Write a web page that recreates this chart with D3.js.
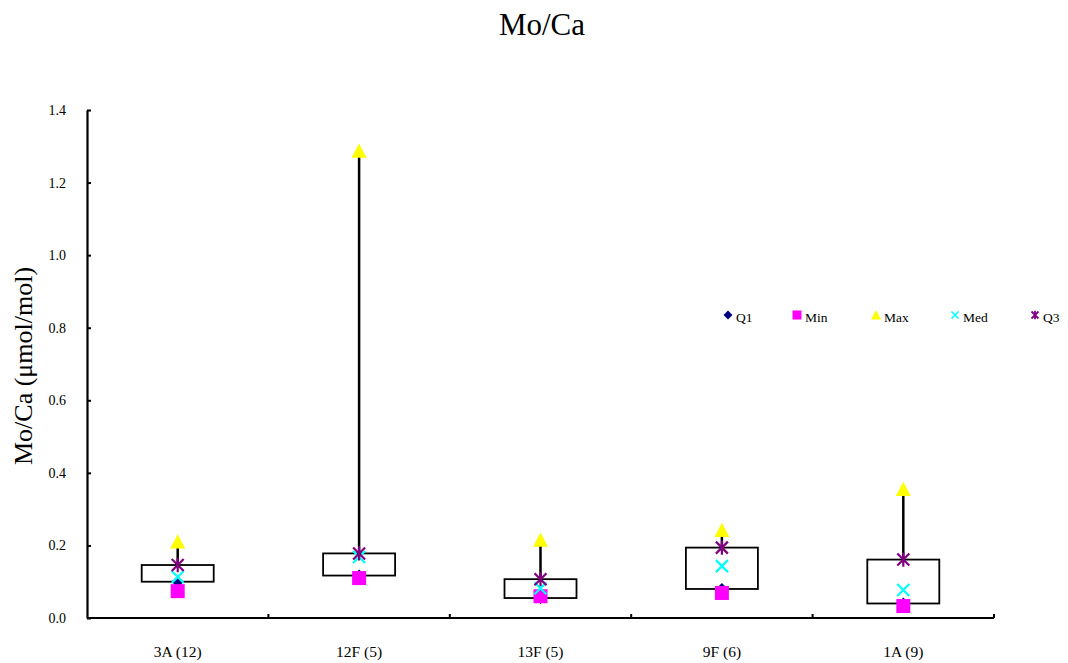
<!DOCTYPE html>
<html>
<head>
<meta charset="utf-8">
<script src="https://cdn.jsdelivr.net/npm/d3@7"></script>
<style>
body{margin:0;background:#fff;}
svg{display:block;font-family:"Liberation Serif","Times New Roman",serif;}
</style>
</head>
<body>
<svg id="chart" width="1068" height="663"></svg>
<script>
const categories = ["3A (12)", "12F (5)", "13F (5)", "9F (6)", "1A (9)"];
const q1Values  = [0.100, 0.117, 0.055, 0.080, 0.040];
const minValues = [0.074, 0.110, 0.060, 0.069, 0.033];
const maxValues = [0.210, 1.287, 0.215, 0.242, 0.355];
const medValues = [0.113, 0.168, 0.082, 0.143, 0.077];
const q3Values  = [0.146, 0.178, 0.107, 0.194, 0.161];
const yTicks = [0, 0.2, 0.4, 0.6, 0.8, 1.0, 1.2, 1.4];
const legendItems = ["Q1", "Min", "Max", "Med", "Q3"];

(function () {
const svg = d3.select("#chart");
const pLeft = 87, pRight = 994, pTop = 110, pBottom = 618;
const serif = "Liberation Serif";

const x = d3.scaleBand().domain(categories).range([pLeft, pRight]).paddingInner(0).paddingOuter(0);
const y = d3.scaleLinear().domain([0, 1.4]).range([pBottom, pTop]);

// title
svg.append("text").attr("x", 542).attr("y", 35).attr("text-anchor", "middle")
  .attr("font-family", serif).attr("font-size", 31).text("Mo/Ca");

// y label
svg.append("text").attr("transform", "translate(32," + 366 + ") rotate(-90)")
  .attr("text-anchor", "middle").attr("font-family", serif).attr("font-size", 26).text("Mo/Ca (μmol/mol)");

// y axis
const yAxis = d3.axisLeft(y).tickValues(yTicks).tickFormat(d3.format(".1f")).tickSizeInner(-4).tickSizeOuter(0).tickPadding(21);
const gy = svg.append("g").attr("transform", "translate(" + pLeft + ",0)").call(yAxis);
gy.attr("font-family", serif);
gy.select(".domain").attr("stroke", "#000").attr("stroke-width", 2.2);
gy.selectAll(".tick line").attr("stroke", "#000").attr("stroke-width", 2);
gy.selectAll(".tick text").attr("font-size", 14).attr("font-family", serif).attr("fill", "#000");

// x axis
const gx = svg.append("g").attr("transform", "translate(0," + pBottom + ")");
gx.append("line").attr("x1", pLeft).attr("x2", pRight).attr("y1", 0).attr("y2", 0)
  .attr("stroke", "#000").attr("stroke-width", 2.2);
const boundaries = categories.map(c => x(c) + x.bandwidth());
gx.selectAll("line.tk").data(boundaries).join("line").attr("class", "tk")
  .attr("x1", d => d).attr("x2", d => d).attr("y1", 0).attr("y2", -4)
  .attr("stroke", "#000").attr("stroke-width", 2);
gx.selectAll("text").data(categories).join("text")
  .attr("x", d => x(d) + x.bandwidth() / 2).attr("y", 39)
  .attr("text-anchor", "middle").attr("font-family", serif).attr("font-size", 15.5).text(d => d);

const boxW = 72;
const data = categories.map((c, i) => ({c, q1: q1Values[i], min: minValues[i], max: maxValues[i], med: medValues[i], q3: q3Values[i]}));
const cx = d => x(d.c) + x.bandwidth() / 2;

// whiskers
svg.selectAll("line.wh").data(data).join("line").attr("class", "wh")
  .attr("x1", cx).attr("x2", cx).attr("y1", d => y(d.max)).attr("y2", d => y(d.q3))
  .attr("stroke", "#000").attr("stroke-width", 2.5);
svg.selectAll("line.wl").data(data).join("line").attr("class", "wl")
  .attr("x1", cx).attr("x2", cx).attr("y1", d => y(d.q1)).attr("y2", d => y(d.min))
  .attr("stroke", "#000").attr("stroke-width", 2.5);
// boxes
svg.selectAll("rect.box").data(data).join("rect").attr("class", "box")
  .attr("x", d => cx(d) - boxW / 2).attr("width", boxW)
  .attr("y", d => y(d.q3)).attr("height", d => y(d.q1) - y(d.q3))
  .attr("fill", "none").attr("stroke", "#000").attr("stroke-width", 1.8);

function diamond(g, px, py, s) {
  g.append("path").attr("d", `M${px},${py - s}L${px + s},${py}L${px},${py + s}L${px - s},${py}Z`).attr("fill", "#000080");
}
function square(g, px, py, s) {
  g.append("rect").attr("x", px - s).attr("y", py - s).attr("width", 2 * s).attr("height", 2 * s).attr("fill", "#ff00ff");
}
function triangle(g, px, py, s) {
  g.append("path").attr("d", `M${px},${py - s}L${px + s},${py + s * 0.9}L${px - s},${py + s * 0.9}Z`).attr("fill", "#ffff00");
}
function cross(g, px, py, s, w) {
  g.append("path").attr("d", `M${px - s},${py - s}L${px + s},${py + s}M${px + s},${py - s}L${px - s},${py + s}`)
    .attr("stroke", "#00ffff").attr("stroke-width", w).attr("fill", "none");
}
function star(g, px, py, s, w) {
  g.append("path").attr("d", `M${px - s},${py - s}L${px + s},${py + s}M${px + s},${py - s}L${px - s},${py + s}M${px},${py - s * 1.2}L${px},${py + s * 1.2}`)
    .attr("stroke", "#800080").attr("stroke-width", w).attr("fill", "none");
}

const mk = svg.append("g");
data.forEach(d => {
  const px = cx(d);
  diamond(mk, px, y(d.q1), 6);
  square(mk, px, y(d.min), 7);
  triangle(mk, px, y(d.max), 7.5);
  cross(mk, px, y(d.med), 6, 2.2);
  star(mk, px, y(d.q3), 6, 2.2);
});

// legend
const legX = [728, 797, 876, 955, 1035];
const legY = 315;
const lg = svg.append("g");
legendItems.forEach((name, i) => {
  const px = legX[i];
  if (name === "Q1") diamond(lg, px, legY, 4.5);
  if (name === "Min") square(lg, px, legY, 4.5);
  if (name === "Max") triangle(lg, px, legY, 5);
  if (name === "Med") cross(lg, px, legY, 3.5, 1.6);
  if (name === "Q3") star(lg, px, legY, 3.5, 1.8);
  lg.append("text").attr("x", px + 8).attr("y", legY + 7).attr("font-family", serif).attr("font-size", 13.5).text(name);
});
})();
</script>
</body>
</html>
